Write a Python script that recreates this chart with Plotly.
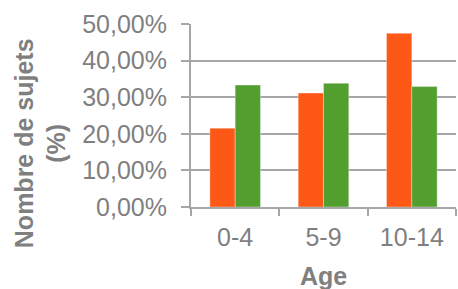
import plotly.graph_objects as go

categories = ["0-4", "5-9", "10-14"]
serie_orange = [0.2155, 0.3115, 0.4745]
serie_verte = [0.3330, 0.3380, 0.3290]
y_ticks = [0, 0.1, 0.2, 0.3, 0.4, 0.5]

GRAY = "#A6A6A6"
TXT = "#7F7F7F"
FONT = "Liberation Sans, Arial, sans-serif"

PL, PR, PT, PB = 191, 456, 24, 206.7
W, H = 458, 289
pw, ph = PR - PL, PB - PT

fig = go.Figure()
fig.add_trace(go.Bar(x=categories, y=serie_orange, name="Série 1",
                     marker=dict(color="#FD5816", line=dict(color="rgba(255,255,255,0.35)", width=1))))
fig.add_trace(go.Bar(x=categories, y=serie_verte, name="Série 2",
                     marker=dict(color="#529E2F", line=dict(color="rgba(255,255,255,0.35)", width=1))))

fig.update_layout(
    width=W, height=H,
    margin=dict(l=PL, r=W - PR, t=PT, b=H - PB, pad=0),
    paper_bgcolor="white", plot_bgcolor="white",
    barmode="group", bargap=0.427, bargroupgap=0,
    showlegend=False,
    separators=",.",
    font=dict(family=FONT, color=TXT, size=25),
)
fig.update_yaxes(
    automargin=False,
    range=[0, 0.5], tickvals=y_ticks, tickformat=".2%",
    showgrid=True, gridcolor=GRAY, gridwidth=2,
    showline=True, linecolor=GRAY, linewidth=2,
    ticks="outside", ticklen=8, tickcolor=GRAY, tickwidth=2,
    ticklabelstandoff=9,
    tickfont=dict(size=25, color=TXT, family=FONT),
    zeroline=False,
)
fig.update_xaxes(
    automargin=False,
    showline=True, linecolor=GRAY, linewidth=2,
    ticks="outside", ticklen=7, tickcolor=GRAY, tickwidth=2,
    tickson="boundaries",
    tickfont=dict(size=25, color=TXT, family=FONT),
    ticklabelstandoff=7,
)
fig.add_annotation(
    text="<b>Nombre de sujets<br>(%)</b>", textangle=-90,
    xref="paper", yref="paper", x=(40 - PL) / pw, y=(PB - 143) / ph,
    xanchor="center", yanchor="middle", showarrow=False,
    font=dict(size=25, color=TXT, family=FONT),
)
fig.add_annotation(
    text="<b>Age</b>",
    xref="paper", yref="paper", x=0.5, y=(PB - 276) / ph,
    xanchor="center", yanchor="middle", showarrow=False,
    font=dict(size=25, color=TXT, family=FONT),
)

fig.write_html("out.html", config={"displayModeBar": False},
               post_script="document.body.style.margin='0';document.body.style.overflow='hidden';")
